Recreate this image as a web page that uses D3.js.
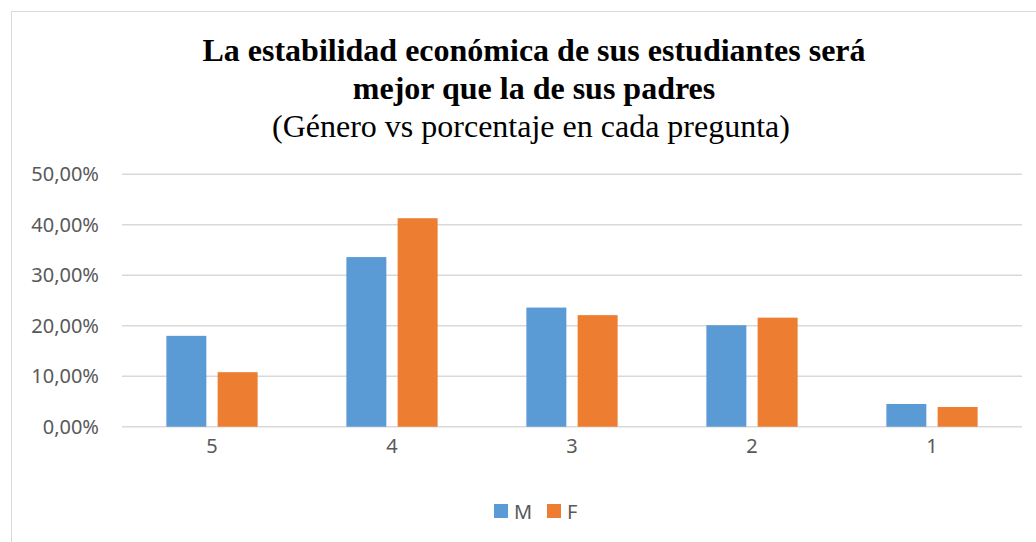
<!DOCTYPE html>
<html>
<head>
<meta charset="utf-8">
<script src="https://cdnjs.cloudflare.com/ajax/libs/d3/7.8.5/d3.min.js"></script>
<style>
  body { margin: 0; background: #fff; }
  svg { display: block; }
</style>
</head>
<body>
<svg id="chart" width="1036" height="542"></svg>
<script>
// data
var categories = ["5", "4", "3", "2", "1"];
var seriesNames = ["M", "F"];
var valuesM = [18.0, 33.6, 23.6, 20.1, 4.5];
var valuesF = [10.8, 41.3, 22.1, 21.6, 3.9];
var yTicks = [0, 10, 20, 30, 40, 50];
var titleLines = ["La estabilidad económica de sus estudiantes será", "mejor que la de sus padres"];
var subtitle = "(Género vs porcentaje en cada pregunta)";

var colors = { "M": "#5B9BD5", "F": "#ED7D31" };

var svg = d3.select("#chart"),
	width = +svg.attr("width"),
	height = +svg.attr("height");

var margin = { left: 122, right: 14, top: 174.3, bottom: 115.3 };

// chart frame
svg.append("rect")
	.attr("x", 11.5).attr("y", 11.5)
	.attr("width", width + 10).attr("height", height + 10)
	.attr("fill", "none")
	.attr("stroke", "#D9D9D9")
	.attr("stroke-width", 1);

var t = svg.append("g")
	.attr("text-anchor", "middle")
	.attr("fill", "#000")
	.attr("font-family", "'Liberation Serif', 'Times New Roman', serif");

t.append("text").attr("x", 534).attr("y", 61)
	.attr("font-size", 32).attr("font-weight", "bold").text(titleLines[0]);
t.append("text").attr("x", 534).attr("y", 99)
	.attr("font-size", 32).attr("font-weight", "bold").text(titleLines[1]);
t.append("text").attr("x", 531).attr("y", 137)
	.attr("font-size", 32).text(subtitle);

var x0 = d3.scaleBand()
	.domain(categories)
	.range([margin.left, width - margin.right])
	.paddingInner(0.493)
	.paddingOuter(0.2465);

var x1 = d3.scaleBand()
	.domain(seriesNames)
	.range([0, x0.bandwidth()])
	.paddingInner(0.22);

var y = d3.scaleLinear()
	.domain([0, 50])
	.range([height - margin.bottom, margin.top]);

// gridlines
svg.append("g")
	.selectAll("line")
	.data(yTicks)
	.enter().append("line")
	.attr("x1", margin.left)
	.attr("x2", width - margin.right)
	.attr("y1", function(d) { return y(d); })
	.attr("y2", function(d) { return y(d); })
	.attr("stroke", "#D9D9D9")
	.attr("stroke-width", 1.5);

var labelFont = "'Noto Sans', 'Liberation Sans', sans-serif";

// y axis labels
var yAxis = d3.axisLeft(y)
	.tickValues(yTicks)
	.tickSize(0)
	.tickPadding(0)
	.tickFormat(function(d) { return d3.format(".2f")(d).replace(".", ",") + "%"; });

var gy = svg.append("g")
	.attr("transform", "translate(99,0)")
	.call(yAxis);
gy.select(".domain").remove();
gy.selectAll("text")
	.attr("fill", "#595959")
	.attr("font-size", 20)
	.attr("font-family", labelFont);

// x axis labels
var xAxis = d3.axisBottom(x0).tickSize(0).tickPadding(0);
var gx = svg.append("g")
	.attr("transform", "translate(0," + (y(0) + 12) + ")")
	.call(xAxis);
gx.select(".domain").remove();
gx.selectAll("text")
	.attr("fill", "#595959")
	.attr("font-size", 20)
	.attr("font-family", labelFont);

// bars
var rows = categories.map(function(c, i) {
	return { cat: c, vals: [{ s: "M", v: valuesM[i] }, { s: "F", v: valuesF[i] }] };
});

var groups = svg.append("g")
	.selectAll("g")
	.data(rows)
	.enter().append("g")
	.attr("transform", function(d) { return "translate(" + x0(d.cat) + ",0)"; });

groups.selectAll("rect")
	.data(function(d) { return d.vals; })
	.enter().append("rect")
	.attr("x", function(d) { return x1(d.s); })
	.attr("width", x1.bandwidth())
	.attr("y", function(d) { return y(d.v); })
	.attr("height", function(d) { return y(0) - y(d.v); })
	.attr("fill", function(d) { return colors[d.s]; });

// legend
var legend = svg.append("g")
	.attr("font-family", labelFont)
	.attr("font-size", 20)
	.attr("fill", "#595959");

var legendX = [494, 547];
seriesNames.forEach(function(s, i) {
	legend.append("rect")
		.attr("x", legendX[i]).attr("y", 504)
		.attr("width", 14).attr("height", 14)
		.attr("fill", colors[s]);
	legend.append("text")
		.attr("x", legendX[i] + 20).attr("y", 518.5)
		.text(s);
});
</script>
</body>
</html>
